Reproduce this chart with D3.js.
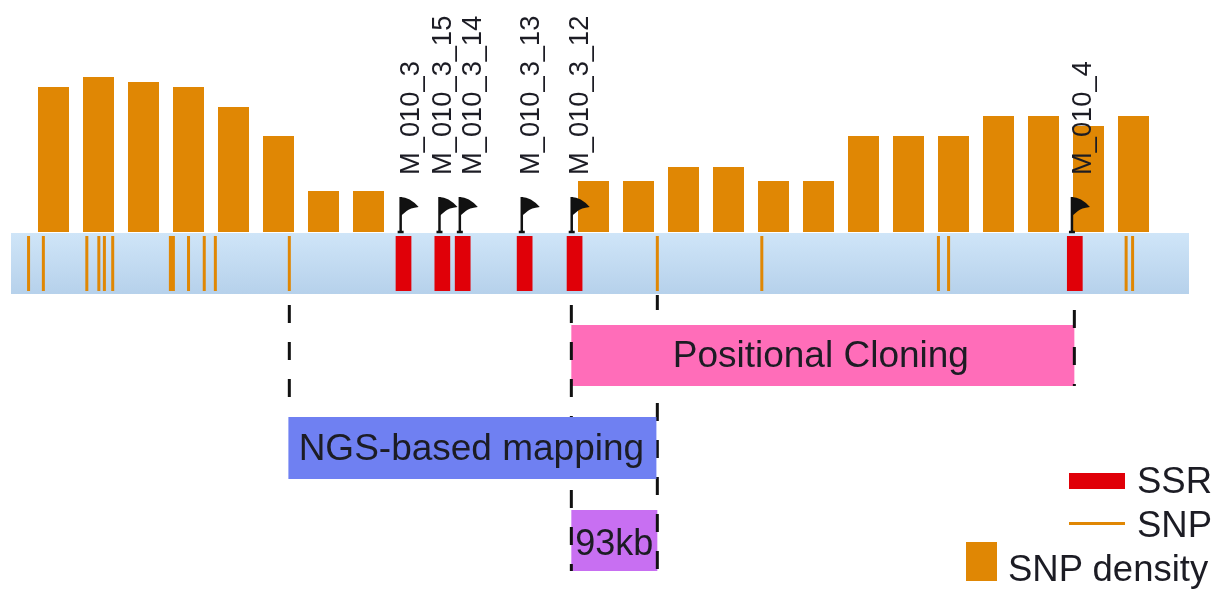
<!DOCTYPE html>
<html><head><meta charset="utf-8">
<script src="https://cdn.jsdelivr.net/npm/d3@7"></script>
<style>html,body{margin:0;padding:0;background:#fff}svg{display:block;filter:blur(0.6px)}text{font-family:"Liberation Sans",sans-serif;fill:#1c1c24}</style>
</head><body><svg id="c" width="1217" height="590"></svg>
<script>
// SNP density per window (null = no bar drawn)
const densityBins = d3.range(25);
const densityValues = [14.5,15.5,15,14.5,12.5,9.6,4.1,4.1,null,null,null,null,5.1,5.1,6.5,6.5,5.1,5.1,9.6,9.6,9.6,11.6,11.6,10.6,11.6];
// genome positions, kb from left end of the region
const snpPositions = [19,35,82,95,101,110,174,192,209,221,301,699,812,1003,1014,1206,1213];
const wideSnp = [174];
const ssrStarts = [416,458,480,547,601,1142];
const ssrWidth = 17;
const markerNames = ["M_010_3","M_010_3_15","M_010_3_14","M_010_3_13","M_010_3_12","M_010_4"];
const intervalNames = ["Positional Cloning","NGS-based mapping","93kb"];
const intervalStarts = [606,300,606];
const intervalEnds = [1150,698,699];
const intervalColors = ["#ff6db9","#6f80f2","#c86ff2"];
const regionKb = 1274;

const svg = d3.select("#c");
const x = d3.scaleLinear().domain([0,regionKb]).range([11,1189]);
const band = d3.scaleBand().domain(densityBins).range([31,31+25*45]).paddingInner(14/45).paddingOuter(7/45);
const y = d3.scaleLinear().domain([0,16]).range([232,72]);
const gold = "#e08704", red = "#e00008";

const defs = svg.append("defs");
const g = defs.append("linearGradient").attr("id","bandGrad").attr("x1",0).attr("x2",0).attr("y1",0).attr("y2",1);
g.append("stop").attr("offset",0).attr("stop-color","#cfe5f8");
g.append("stop").attr("offset",1).attr("stop-color","#b6d1eb");

// density bars
svg.append("g").selectAll("rect").data(densityValues.map((v,i)=>({v,i})).filter(d=>d.v!==null)).join("rect")
  .attr("x",d=>band(d.i)).attr("width",band.bandwidth()).attr("y",d=>y(d.v)).attr("height",d=>y(0)-y(d.v)).attr("fill",gold);

// chromosome band
svg.append("rect").attr("x",x(0)).attr("width",x(regionKb)-x(0)).attr("y",233).attr("height",61).attr("fill","url(#bandGrad)");

// SNPs
svg.append("g").selectAll("rect").data(snpPositions).join("rect")
  .attr("x",d=>x(d)-(wideSnp.includes(d)?3:1.5)).attr("width",d=>wideSnp.includes(d)?6:3).attr("y",236).attr("height",55).attr("fill",gold);

// SSRs
svg.append("g").selectAll("rect").data(ssrStarts).join("rect")
  .attr("x",d=>x(d)).attr("width",x(ssrWidth)-x(0)).attr("y",236).attr("height",55).attr("fill",red);

// dashed guides and interval boxes
function guide(kb,y1,y2,off){
  svg.append("line").attr("x1",x(kb)).attr("x2",x(kb)).attr("y1",y1).attr("y2",y2)
    .attr("stroke","#111").attr("stroke-width",3).attr("stroke-dasharray","18 19").attr("stroke-dashoffset",off);
}
function box(i){
  svg.append("rect").attr("x",x(intervalStarts[i])).attr("width",x(intervalEnds[i])-x(intervalStarts[i]))
   .attr("y",[325,417,510][i]).attr("height",[61,62,61][i]).attr("fill",intervalColors[i]);
}
box(2);
guide(699,295,571,3);
box(0);
guide(1150,310,386,0);
guide(301,305,400,0);
guide(606,305,571,0);
box(1);
svg.append("g").selectAll("text").data(intervalNames).join("text")
  .attr("x",(d,i)=>x((intervalStarts[i]+intervalEnds[i])/2)+[-2,-1,0][i]).attr("y",(d,i)=>[367,459.5,555][i])
  .attr("text-anchor","middle").attr("font-size",(d,i)=>i==2?36:37).text(d=>d);

// flags and marker labels
const flags = svg.append("g").selectAll("g").data(ssrStarts).join("g").attr("transform",d=>`translate(${x(d)+5},0)`);
flags.append("line").attr("y1",197).attr("y2",231).attr("stroke","#111").attr("stroke-width",2.5);
flags.append("path").attr("d","M0,197 Q9,197 18,207 Q9,208 6,211 L0,216 Z").attr("fill","#111");
flags.append("path").attr("d","M-3,232 h6").attr("stroke","#111").attr("stroke-width",2.5);
svg.append("g").selectAll("text").data(markerNames).join("text")
  .attr("transform",(d,i)=>`translate(${x(ssrStarts[i])+[23,17,26,22,21,24][i]},175) rotate(-90)`)
  .attr("font-size",27.3).text(d=>d);

// legend
const lg = svg.append("g");
lg.append("rect").attr("x",1069).attr("y",473).attr("width",56).attr("height",16).attr("fill",red);
lg.append("rect").attr("x",1069).attr("y",522).attr("width",56).attr("height",3).attr("fill",gold);
lg.append("rect").attr("x",966).attr("y",542).attr("width",31).attr("height",39).attr("fill",gold);
lg.append("text").attr("x",1137).attr("y",493).attr("font-size",36.5).text("SSR");
lg.append("text").attr("x",1137).attr("y",537).attr("font-size",36.5).text("SNP");
lg.append("text").attr("x",1008).attr("y",581).attr("font-size",36.5).text("SNP density");
</script></body></html>
